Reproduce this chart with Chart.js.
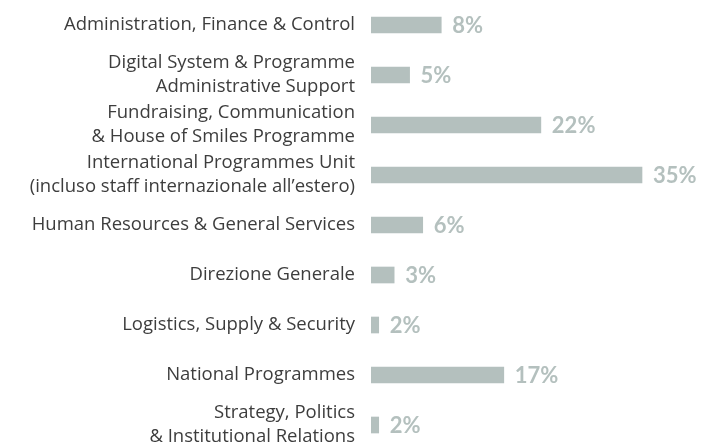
<!DOCTYPE html>
<html>
<head>
<meta charset="utf-8">
<title>Ripartizione per area</title>
<script src="https://cdn.jsdelivr.net/npm/chart.js@4.4.1/dist/chart.umd.min.js"></script>
<style>
    html, body { margin: 0; padding: 0; background: #ffffff; overflow: hidden; }
    #box { width: 706px; height: 450px; position: relative; }
</style>
</head>
<body>
<div id="box"><canvas id="myChart"></canvas></div>
<script>
// categorie (etichette su piu righe come nel grafico)
var aree = [
    ["Administration, Finance & Control"],
    ["Digital System & Programme", "Administrative Support"],
    ["Fundraising, Communication", "& House of Smiles Programme"],
    ["International Programmes Unit", "(incluso staff internazionale all\u2019estero)"],
    ["Human Resources & General Services"],
    ["Direzione Generale"],
    ["Logistics, Supply & Security"],
    ["National Programmes"],
    ["Strategy, Politics", "& Institutional Relations"]
];

// lunghezza delle barre (%)
var valori = [9.1, 5.0, 22.0, 35.1, 6.7, 3.0, 1.0, 17.2, 1.0];

// testo stampato accanto a ogni barra
var percentuali = ["8%", "5%", "22%", "35%", "6%", "3%", "2%", "17%", "2%"];

var grigio = "#b4c0be";

var etichettePlugin = {
    id: "etichette",
    afterDatasetsDraw: function (chart) {
        var ctx = chart.ctx;
        var meta = chart.getDatasetMeta(0);
        ctx.save();
        ctx.font = "bold 22px Lato";
        ctx.fillStyle = grigio;
        ctx.textAlign = "left";
        ctx.textBaseline = "middle";
        meta.data.forEach(function (bar, i) {
            ctx.fillText(percentuali[i], bar.x + 11, bar.y + 1);
        });
        ctx.restore();
    }
};

var ctx = document.getElementById("myChart");
var myBarChart = new Chart(ctx, {
    type: "bar",
    data: {
        labels: aree,
        datasets: [{
            data: valori,
            backgroundColor: grigio,
            borderWidth: 0,
            barThickness: 16
        }]
    },
    options: {
        indexAxis: "y",
        responsive: true,
        maintainAspectRatio: false,
        animation: false,
        layout: { padding: { top: 0, right: 3, bottom: 0, left: 0 } },
        plugins: {
            legend: { display: false },
            tooltip: { enabled: false }
        },
        scales: {
            x: {
                display: false,
                min: 0,
                max: 43
            },
            y: {
                grid: { display: false, drawTicks: false },
                border: { display: false },
                ticks: {
                    autoSkip: false,
                    padding: 16,
                    color: "#3d3d3d",
                    font: { family: "Open Sans", size: 18.5, lineHeight: 1.3 }
                },
                afterFit: function (scale) {
                    scale.width = 371;
                    scale.paddingTop = 0;
                    scale.paddingBottom = 0;
                }
            }
        }
    },
    plugins: [etichettePlugin]
});
</script>
</body>
</html>
